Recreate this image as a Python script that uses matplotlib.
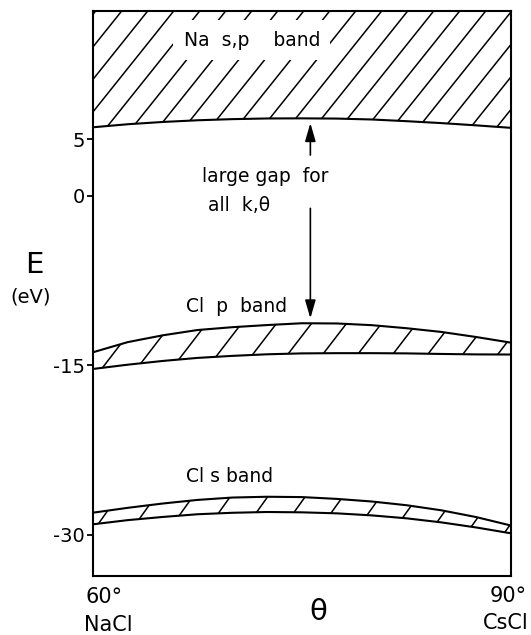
import numpy as np
import matplotlib
matplotlib.use("Agg")
import matplotlib.pyplot as plt
from matplotlib.collections import LineCollection

# Mixing angle theta (degrees) between the NaCl and CsCl structures
theta = [60, 62.5, 65, 67.5, 70, 72.5, 75, 77.5, 80, 82.5, 85, 87.5, 90]

# Band edges in eV
na_sp_lower = [6.08, 6.35, 6.55, 6.70, 6.80, 6.86, 6.87, 6.85, 6.77, 6.62, 6.45, 6.25, 6.03]
cl_p_upper = [-13.85, -12.95, -12.35, -11.88, -11.63, -11.44, -11.28, -11.30,
              -11.45, -11.72, -12.05, -12.50, -13.00]
cl_p_lower = [-15.33, -14.95, -14.62, -14.35, -14.17, -14.03, -13.95, -13.93,
              -13.93, -13.95, -14.00, -14.04, -14.05]
cl_s_upper = [-28.06, -27.63, -27.25, -26.93, -26.72, -26.65, -26.68, -26.84,
              -27.07, -27.40, -27.85, -28.45, -29.20]
cl_s_lower = [-29.09, -28.72, -28.44, -28.20, -28.07, -28.00, -28.03, -28.12,
              -28.30, -28.56, -28.92, -29.37, -29.89]

# Energy axis ticks
ytick_vals = [5, 0, -15, -30]
ytick_labels = ["5", "0", "-15", "-30"]

# Gap arrow: theta position and the two arrow spans (tail, tip) in eV
gap_theta = 75.6
gap_up = (3.62, 6.45)
gap_down = (-1.10, -10.85)

E_TOP, E_BOTTOM = 16.38, -33.67

plt.rcParams["font.family"] = ["DejaVu Sans"]

W_PX, H_PX = 531, 635
fig = plt.figure(figsize=(W_PX / 100, H_PX / 100), dpi=100)
ax = fig.add_axes([93 / W_PX, 1 - 576 / H_PX, 418 / W_PX, 565 / H_PX])
ax.set_xlim(60, 90)
ax.set_ylim(E_BOTTOM, E_TOP)


def hatch_band(ax, x, lo, hi, spacing, slope, anchor, lw=1.1):
    """Fill the region between lo and hi with '/' strokes (pixel spacing/slope)."""
    poly = ax.fill_between(x, lo, hi, facecolor="none", edgecolor="none", linewidth=0)
    w, h = ax.bbox.width, ax.bbox.height
    ax0, ay0 = anchor
    x_bottom = ax0 - ay0 / slope
    rise = h / slope
    start = x_bottom - np.ceil((x_bottom + rise) / spacing) * spacing
    offs = np.arange(start, w + spacing, spacing)
    segs = [[(o / w, 0.0), ((o + rise) / w, 1.0)] for o in offs]
    lc = LineCollection(segs, transform=ax.transAxes, colors="black",
                        linewidths=lw, zorder=2)
    lc.set_clip_path(poly.get_paths()[0], ax.transData)
    ax.add_collection(lc, autolim=False)


top_edge = [E_TOP] * len(theta)
hatch_band(ax, theta, na_sp_lower, top_edge, 26.0, 1.25, (28.7, 565.0))
hatch_band(ax, theta, cl_p_lower, cl_p_upper, 35.0, 1.30, (8.5, 207.0))
hatch_band(ax, theta, cl_s_lower, cl_s_upper, 37.5, 1.40, (5.0, 51.7))

lw_edge = 1.5
for curve in (na_sp_lower, cl_p_upper, cl_p_lower, cl_s_upper, cl_s_lower):
    ax.plot(theta, curve, color="black", linewidth=lw_edge, zorder=3,
            solid_capstyle="butt", solid_joinstyle="round")

# Arrows spanning the gap
arrow_kw = dict(arrowstyle="-|>,head_length=1.1,head_width=0.32",
                color="black", linewidth=1.2, shrinkA=0, shrinkB=0)
ax.annotate("", xy=(gap_theta, gap_up[1]), xytext=(gap_theta, gap_up[0]),
            arrowprops=arrow_kw, zorder=4)
ax.annotate("", xy=(gap_theta, gap_down[1]), xytext=(gap_theta, gap_down[0]),
            arrowprops=arrow_kw, zorder=4)

fs = 13.5
ax.text(66.5, 13.3, "Na  s,p    band", fontsize=fs, ha="left", va="baseline",
        zorder=5, bbox=dict(boxstyle="square,pad=0.55", facecolor="white",
                            edgecolor="none"))
ax.text(67.8, 1.26, "large gap  for", fontsize=fs, ha="left", va="baseline", zorder=5)
ax.text(68.25, -1.34, "all  k,θ", fontsize=fs, ha="left", va="baseline", zorder=5)
ax.text(66.7, -10.26, "Cl  p  band", fontsize=fs, ha="left", va="baseline", zorder=5)
ax.text(66.7, -25.31, "Cl s band", fontsize=fs, ha="left", va="baseline", zorder=5)

# Axes styling
for sp in ax.spines.values():
    sp.set_linewidth(1.5)
ax.set_xticks([])
ax.set_yticks(ytick_vals, ytick_labels)
ax.tick_params(axis="y", direction="out", length=4, width=1.3, pad=2,
               labelsize=14)


def fx(px):
    return px / W_PX


def fy(py):
    return 1 - py / H_PX


fig.text(fx(34.3), fy(265), "E", fontsize=21, ha="center", va="center")
fig.text(fx(31), fy(297), "(eV)", fontsize=14, ha="center", va="center")

fig.text(fx(104), fy(597), "60°", fontsize=15, ha="center", va="center")
fig.text(fx(108), fy(625), "NaCl", fontsize=15, ha="center", va="center")
fig.text(fx(508), fy(596), "90°", fontsize=15, ha="center", va="center")
fig.text(fx(506), fy(623), "CsCl", fontsize=15, ha="center", va="center")
fig.text(fx(318), fy(612), "θ", fontsize=21, ha="center", va="center")

fig.savefig("out.png", dpi=100, facecolor="white")
